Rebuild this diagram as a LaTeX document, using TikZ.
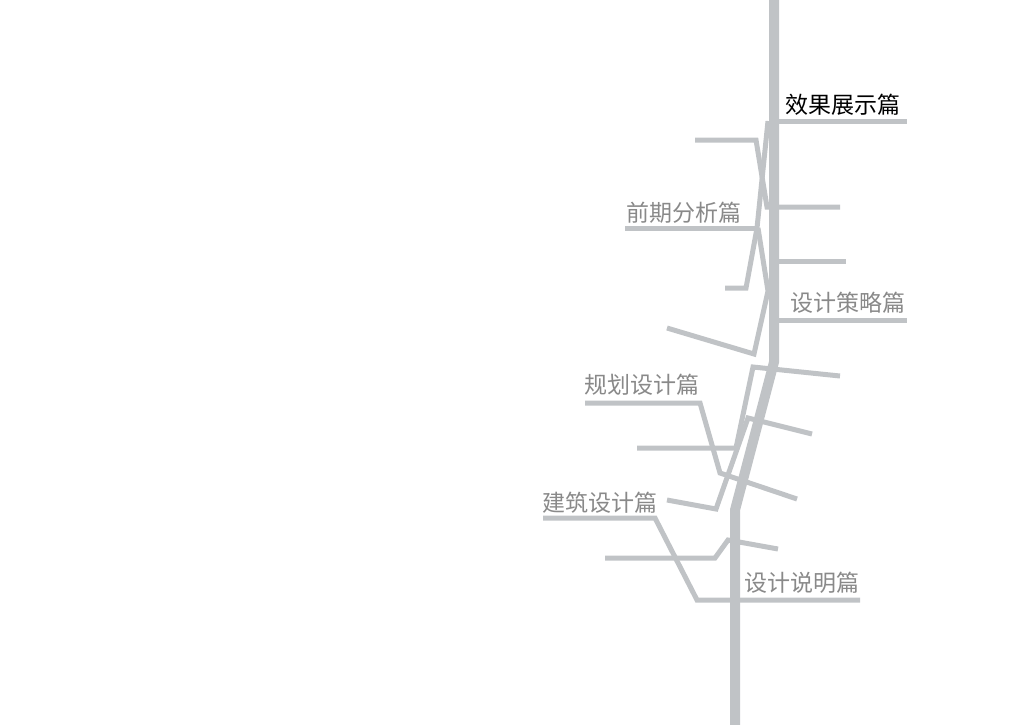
\documentclass[tikz,border=0pt]{standalone}
\usepackage{fontspec}
\newfontfamily\cjk{Noto Sans CJK SC}
\definecolor{linegray}{RGB}{192,195,198}
\definecolor{textgray}{RGB}{137,137,137}
\tikzset{
  thickline/.style={draw=linegray, line width=10pt},
  thinline/.style={draw=linegray, line width=5pt},
  lbl/.style={anchor=base west, inner sep=0pt, font=\cjk\fontsize{23}{23}\selectfont, text=textgray},
  lblblack/.style={lbl, text=black}
}
\begin{document}
\begin{tikzpicture}[x=1pt,y=-1pt]
\useasboundingbox (0,0) rectangle (1024,724);
% main trunk
\draw[thickline] (774,-2) -- (774,362) -- (735,510) -- (735,726);
% upper branches
\draw[thinline] (774,121) -- (907,121);
\draw[thinline] (695,140) -- (756,140) -- (767,207) -- (840,207);
\draw[thinline] (768,121) -- (757,228) -- (746,288) -- (725,288);
\draw[thinline] (625,228) -- (759,228);
\draw[thinline] (758,228) -- (768,291) -- (754,354) -- (667,328);
\draw[thinline] (774,261) -- (846,261);
\draw[thinline] (774,320) -- (907,320);
% middle branches
\draw[thinline] (840,376) -- (753,367) -- (736,448) -- (637,448);
\draw[thinline] (812,434) -- (748,418) -- (716,509) -- (667,500);
\draw[thinline] (585,403) -- (700,403) -- (720,473) -- (797,499);
% lower branches
\draw[thinline] (605,558) -- (715,558) -- (728,540) -- (778,549);
\draw[thinline] (543,518) -- (655,518) -- (697,600) -- (860,600);
% labels
\node[lblblack] (xiaoguo) at (785,113) {效果展示篇};
\node[lbl] (qianqi) at (626,221) {前期分析篇};
\node[lbl] (celue) at (790,311) {设计策略篇};
\node[lbl] (guihua) at (584,393) {规划设计篇};
\node[lbl] (jianzhu) at (542,511) {建筑设计篇};
\node[lbl] (shuoming) at (744,591) {设计说明篇};
\end{tikzpicture}
\end{document}
